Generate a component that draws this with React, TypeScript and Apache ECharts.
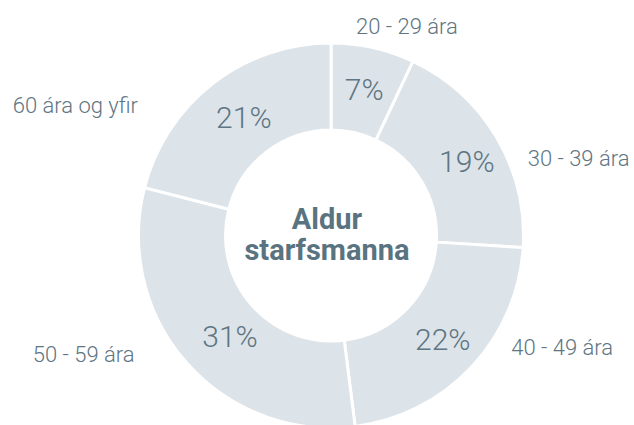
import React, { useEffect, useRef } from "react";
import * as echarts from "echarts";

const categories = ["20 - 29 ára", "30 - 39 ára", "40 - 49 ára", "50 - 59 ára", "60 ára og yfir"];
const shares = [7, 19, 22, 31, 21];
const centerTitle = ["Aldur", "starfsmanna"];

// presentational nudges for the outside name labels (dx, dy) relative to ECharts' own placement
const nameLabelNudges = [
  [-17, -21],
  [31, 21],
  [40, -20],
  [-52, -8],
  [-75, 22],
];
const pctLabelNudges = [
  [0, 2],
  [5, 3],
  [1, 0],
  [13, 0],
  [6, 2],
];

const TEXT = "#5e7582";
const FILL = "#dce3e9";
const FONT = "Roboto, 'Open Sans', sans-serif";

export default function App() {
  const ref = useRef<HTMLDivElement>(null);
  useEffect(() => {
    if (!ref.current) return;
    const chart = echarts.init(ref.current, undefined, { renderer: "svg" });
    const data = categories.map((name, i) => ({ name, value: shares[i] }));
    const center = [331, 235.5];
    const radius = [105.5, 192.5];
    chart.setOption({
      animation: false,
      backgroundColor: "#ffffff",
      graphic: [
        {
          type: "text",
          x: 327,
          y: 234,
          style: {
            text: centerTitle.join("\n"),
            fill: "#5a7380",
            font: `bold 29px ${FONT}`,
            lineHeight: 31,
            align: "center",
            verticalAlign: "middle",
          },
          z: 10,
        },
      ],
      series: [
        {
          type: "pie",
          center,
          radius,
          startAngle: 90,
          clockwise: true,
          avoidLabelOverlap: false,
          silent: true,
          itemStyle: { color: FILL, borderColor: "#ffffff", borderWidth: 3 },
          label: {
            show: true,
            position: "inside",
            formatter: "{c}%",
            color: TEXT,
            fontFamily: FONT,
            fontWeight: 300,
            fontSize: 30,
          },
          labelLayout: (p: any) => ({
            dx: pctLabelNudges[p.dataIndex][0],
            dy: pctLabelNudges[p.dataIndex][1],
          }),
          labelLine: { show: false },
          data,
        },
        {
          type: "pie",
          center,
          radius,
          startAngle: 90,
          clockwise: true,
          avoidLabelOverlap: false,
          silent: true,
          itemStyle: { color: "rgba(0,0,0,0)", borderWidth: 0 },
          label: {
            show: true,
            position: "outside",
            formatter: "{b}",
            color: TEXT,
            fontFamily: FONT,
            fontWeight: 300,
            fontSize: 22,
            distanceToLabelLine: 0,
          },
          labelLine: { show: false, length: 0, length2: 0 },
          labelLayout: (p: any) => ({
            dx: nameLabelNudges[p.dataIndex][0],
            dy: nameLabelNudges[p.dataIndex][1],
          }),
          data,
        },
      ],
    });
    return () => chart.dispose();
  }, []);
  return (
    <div
      ref={ref}
      style={{ position: "absolute", left: 0, top: 0, width: 634, height: 425 }}
    />
  );
}
